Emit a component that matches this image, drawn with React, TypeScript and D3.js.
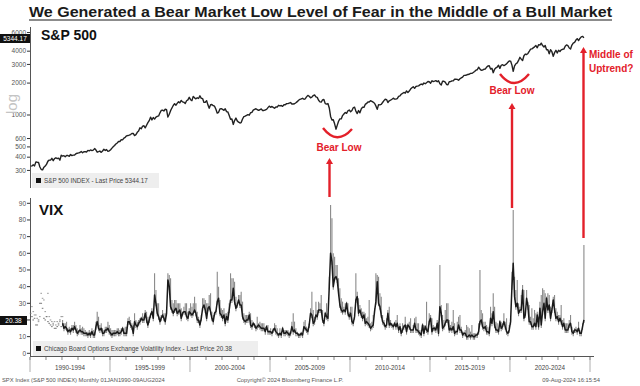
import React from 'react';
import * as d3 from 'd3';

// S&P 500 monthly closes, Jan 1990 - Aug 2024
const spx = [
  329, 331, 339, 331, 361, 358, 356, 323, 306, 304, 322, 330, // 1990
  344, 367, 375, 375, 390, 371, 388, 395, 388, 392, 375, 417, // 1991
  409, 413, 404, 415, 415, 408, 424, 414, 418, 419, 431, 436, // 1992
  439, 443, 452, 440, 450, 451, 448, 464, 459, 468, 462, 466, // 1993
  482, 467, 446, 451, 457, 444, 458, 475, 463, 472, 454, 459, // 1994
  470, 487, 501, 515, 533, 545, 562, 562, 584, 582, 605, 616, // 1995
  636, 640, 646, 654, 669, 671, 640, 652, 687, 705, 757, 741, // 1996
  786, 791, 757, 801, 848, 885, 954, 899, 947, 915, 955, 970, // 1997
  980, 1049, 1102, 1112, 1091, 1134, 1121, 957, 1017, 1099, 1164, 1229, // 1998
  1280, 1238, 1286, 1335, 1302, 1373, 1329, 1320, 1283, 1363, 1389, 1469, // 1999
  1394, 1366, 1499, 1452, 1421, 1455, 1431, 1518, 1437, 1429, 1315, 1320, // 2000
  1366, 1240, 1160, 1249, 1256, 1224, 1211, 1134, 1041, 1060, 1139, 1148, // 2001
  1130, 1107, 1147, 1077, 1067, 990, 912, 916, 815, 886, 936, 880, // 2002
  856, 841, 848, 917, 964, 975, 990, 1008, 996, 1051, 1058, 1112, // 2003
  1131, 1145, 1126, 1107, 1121, 1141, 1102, 1104, 1115, 1130, 1174, 1212, // 2004
  1181, 1204, 1181, 1157, 1192, 1191, 1234, 1220, 1229, 1207, 1249, 1248, // 2005
  1280, 1281, 1295, 1311, 1270, 1270, 1277, 1304, 1336, 1378, 1401, 1418, // 2006
  1438, 1407, 1421, 1482, 1531, 1503, 1455, 1474, 1527, 1549, 1481, 1468, // 2007
  1379, 1331, 1323, 1386, 1400, 1280, 1267, 1283, 1165, 969, 896, 903, // 2008
  826, 735, 798, 873, 919, 919, 987, 1021, 1057, 1036, 1096, 1115, // 2009
  1074, 1104, 1169, 1187, 1089, 1031, 1102, 1049, 1141, 1183, 1181, 1258, // 2010
  1286, 1327, 1326, 1364, 1345, 1321, 1292, 1219, 1131, 1253, 1247, 1258, // 2011
  1312, 1366, 1408, 1398, 1310, 1362, 1379, 1407, 1441, 1412, 1416, 1426, // 2012
  1498, 1515, 1569, 1598, 1631, 1606, 1686, 1633, 1682, 1757, 1806, 1848, // 2013
  1783, 1859, 1872, 1884, 1924, 1960, 1931, 2003, 1972, 2018, 2068, 2059, // 2014
  1995, 2105, 2068, 2086, 2107, 2063, 2104, 1972, 1920, 2079, 2080, 2044, // 2015
  1940, 1932, 2060, 2065, 2097, 2099, 2174, 2171, 2168, 2126, 2199, 2239, // 2016
  2279, 2364, 2363, 2384, 2412, 2423, 2470, 2472, 2519, 2575, 2648, 2674, // 2017
  2824, 2714, 2641, 2648, 2705, 2718, 2816, 2902, 2914, 2712, 2760, 2507, // 2018
  2704, 2784, 2834, 2946, 2752, 2942, 2980, 2926, 2977, 3038, 3141, 3231, // 2019
  3226, 2954, 2585, 2912, 3044, 3100, 3271, 3500, 3363, 3270, 3622, 3756, // 2020
  3714, 3811, 3973, 4181, 4204, 4298, 4395, 4523, 4308, 4605, 4567, 4766, // 2021
  4516, 4374, 4530, 4132, 4132, 3785, 4130, 3955, 3586, 3872, 4080, 3840, // 2022
  4077, 3970, 4109, 4169, 4180, 4450, 4589, 4508, 4288, 4194, 4568, 4770, // 2023
  4846, 5096, 5254, 5036, 5278, 5460, 5522, 5344 // 2024
];

// VIX monthly close
const vixClose = [
  24, 22, 20, 21, 17, 17, 20, 30, 30, 27, 21, 20, // 1990
  22, 19, 18, 17, 16, 17, 15, 15, 16, 17, 20, 16, // 1991
  18, 15, 16, 15, 13, 14, 13, 15, 14, 16, 14, 12, // 1992
  13, 14, 13, 13, 12, 12, 12, 11, 12, 11, 13, 11, // 1993
  11, 16, 19, 15, 14, 15, 12, 12, 14, 14, 15, 13, // 1994
  12, 11, 12, 12, 12, 13, 12, 12, 13, 15, 12, 12, // 1995
  12, 19, 19, 17, 16, 12, 19, 17, 16, 18, 19, 21, // 1996
  20, 20, 24, 20, 17, 20, 23, 25, 21, 35, 30, 24, // 1997
  22, 19, 21, 23, 21, 19, 24, 44, 40, 28, 26, 24, // 1998
  26, 27, 24, 25, 26, 21, 24, 25, 25, 22, 21, 25, // 1999
  24, 23, 24, 26, 24, 20, 20, 17, 21, 27, 29, 26, // 2000
  21, 27, 28, 25, 21, 19, 24, 25, 31, 33, 24, 23, // 2001
  21, 23, 18, 22, 20, 26, 32, 32, 39, 31, 27, 29, // 2002
  32, 29, 29, 22, 20, 19, 20, 20, 23, 17, 16, 18, // 2003
  17, 15, 16, 17, 16, 15, 15, 15, 13, 16, 13, 13, // 2004
  13, 12, 14, 15, 13, 12, 11, 12, 11, 15, 12, 12, // 2005
  13, 12, 11, 12, 16, 13, 14, 12, 12, 11, 11, 12, // 2006
  11, 16, 15, 14, 13, 17, 24, 23, 18, 19, 23, 22, // 2007
  26, 26, 26, 20, 18, 24, 22, 21, 40, 60, 55, 40, // 2008
  45, 46, 44, 36, 29, 26, 25, 26, 25, 30, 24, 22, // 2009
  24, 19, 18, 22, 32, 34, 24, 26, 23, 21, 23, 18, // 2010
  19, 18, 17, 15, 16, 17, 25, 31, 43, 30, 28, 23, // 2011
  19, 18, 16, 17, 24, 17, 18, 17, 16, 18, 16, 18, // 2012
  14, 16, 12, 14, 16, 17, 13, 17, 16, 14, 14, 14, // 2013
  18, 14, 14, 13, 12, 11, 17, 12, 16, 14, 13, 19, // 2014
  21, 13, 15, 15, 14, 18, 12, 28, 24, 15, 16, 18, // 2015
  20, 20, 14, 15, 14, 16, 12, 13, 13, 17, 14, 14, // 2016
  11, 12, 12, 10, 10, 11, 10, 11, 10, 10, 11, 11, // 2017
  13, 19, 20, 16, 15, 16, 13, 13, 12, 21, 18, 25, // 2018
  17, 14, 14, 13, 19, 15, 16, 19, 16, 13, 12, 14, // 2019
  19, 40, 54, 34, 28, 30, 24, 26, 26, 38, 21, 23, // 2020
  33, 28, 19, 19, 16, 16, 18, 16, 23, 16, 27, 17, // 2021
  25, 30, 21, 33, 26, 29, 21, 26, 32, 26, 21, 22, // 2022
  19, 21, 19, 16, 18, 14, 14, 14, 17, 18, 13, 12, // 2023
  14, 14, 13, 15, 12, 12, 16, 20 // 2024
];

// VIX monthly high
const vixHigh = [
  28, 25, 23, 23, 21, 19, 22, 36, 33, 32, 25, 22, // 1990
  36, 22, 20, 19, 18, 19, 17, 19, 18, 19, 22, 22, // 1991
  20, 18, 18, 19, 15, 16, 15, 17, 17, 19, 17, 15, // 1992
  14, 17, 15, 16, 15, 14, 13, 13, 14, 13, 15, 14, // 1993
  13, 19, 25, 22, 17, 18, 15, 14, 16, 16, 19, 17, // 1994
  15, 14, 14, 14, 14, 15, 15, 14, 15, 16, 15, 16, // 1995
  16, 21, 22, 20, 18, 17, 24, 20, 19, 20, 21, 22, // 1996
  24, 22, 26, 25, 22, 22, 24, 27, 26, 48, 38, 30, // 1997
  30, 22, 23, 26, 24, 24, 26, 48, 47, 45, 32, 30, // 1998
  32, 32, 30, 30, 30, 27, 25, 28, 30, 30, 25, 27, // 1999
  30, 28, 30, 34, 30, 25, 22, 20, 23, 33, 33, 32, // 2000
  30, 30, 35, 36, 25, 23, 25, 26, 49, 40, 32, 27, // 2001
  26, 27, 24, 24, 25, 30, 48, 45, 45, 43, 34, 30, // 2002
  35, 35, 37, 31, 24, 23, 23, 23, 25, 24, 20, 19, // 2003
  18, 17, 22, 18, 19, 18, 18, 18, 16, 17, 17, 14, // 2004
  15, 13, 15, 18, 17, 15, 12, 15, 13, 16, 14, 14, // 2005
  14, 14, 13, 13, 19, 24, 19, 15, 13, 12, 12, 13, // 2006
  12, 19, 20, 16, 15, 18, 27, 37, 26, 22, 31, 26, // 2007
  31, 30, 35, 26, 20, 25, 30, 24, 46, 89, 81, 60, // 2008
  58, 53, 53, 45, 39, 33, 31, 28, 30, 31, 30, 25, // 2009
  28, 28, 20, 23, 48, 37, 33, 29, 27, 25, 25, 24, // 2010
  21, 22, 32, 18, 19, 23, 27, 48, 47, 46, 36, 34, // 2011
  23, 20, 17, 21, 26, 28, 20, 18, 17, 19, 20, 23, // 2012
  15, 18, 15, 18, 17, 22, 17, 18, 19, 21, 14, 17, // 2013
  21, 22, 18, 18, 14, 13, 18, 17, 17, 31, 15, 24, // 2014
  23, 21, 17, 16, 16, 20, 19, 53, 29, 23, 20, 26, // 2015
  30, 30, 20, 17, 19, 26, 18, 14, 19, 22, 23, 16, // 2016
  13, 13, 14, 17, 16, 15, 13, 17, 12, 12, 12, 12, // 2017
  18, 50, 26, 24, 19, 19, 17, 16, 15, 28, 24, 36, // 2018
  28, 19, 18, 14, 20, 19, 18, 24, 19, 21, 13, 17, // 2019
  21, 49, 86, 46, 38, 44, 30, 28, 35, 41, 38, 25, // 2020
  38, 31, 29, 22, 27, 21, 26, 24, 25, 22, 31, 35, // 2021
  39, 38, 36, 34, 36, 35, 28, 27, 34, 35, 27, 25, // 2022
  23, 23, 29, 20, 21, 18, 18, 18, 20, 23, 16, 14, // 2023
  15, 16, 15, 19, 14, 13, 18, 65 // 2024
];

const spxTicks = [300, 400, 500, 600, 1000, 2000, 3000, 4000, 5000, 6000];
const vixTicks = [0, 10, 20, 30, 40, 50, 60, 70, 80, 90];
// tick labels sitting behind the last-price tags are not visible in the original
const hiddenSpx = [5000];
const hiddenVix = [20];
const periodLabels = ['1990-1994', '1995-1999', '2000-2004', '2005-2009', '2010-2014', '2015-2019', '2020-2024'];
const title = 'We Generated a Bear Market Low Level of Fear in the Middle of a  Bull Market';

const RED = '#e3202a';
const SMALL = '"Liberation Sans Narrow", "Liberation Sans", Arial, sans-serif';
const BOLD = '"Liberation Sans", Arial, sans-serif';

const App: React.FC = () => {
  const dates = spx.map((_, i) => new Date(1990, i, 15));
  const x = d3.scaleTime().domain([new Date(1990, 0, 1), new Date(2025, 0, 1)]).range([30, 590]);
  const ySpx = d3.scaleLog().domain([1000, 10000]).range([115, 9]);
  const yVix = d3.scaleLinear().domain([0, 90]).range([353.3, 203.3]);

  const spxLine = d3.line<number>().x((_, i) => x(dates[i])).y(d => ySpx(d))(spx) || '';
  const vixStart = 24; // line drawn from 1992, earlier months appear as dots
  const vixIdx = d3.range(vixStart, vixClose.length);
  const vixLine = d3.line<number>().x(i => x(dates[i])).y(i => yVix(vixClose[i]))(vixIdx) || '';

  const years = d3.range(1990, 2026);
  const bounds = d3.range(1990, 2026, 5);

  const arrow = (xx: number, y1: number, y2: number) => (
    <g>
      <line x1={xx} x2={xx} y1={y1} y2={y2 + 5} stroke={RED} strokeWidth={2.4} />
      <path d={`M${xx - 3.5},${y2 + 6} L${xx},${y2} L${xx + 3.5},${y2 + 6} Z`} fill={RED} />
    </g>
  );

  return (
    <svg width={640} height={386} style={{ position: 'absolute', left: 0, top: 0, background: '#fff' }}>
      <rect width={640} height={386} fill="#fff" />
      {/* title */}
      <text x={29} y={17} fontFamily={BOLD} fontWeight="bold" fontSize={14.5} fill="#1a1a1a"
        textLength={583} lengthAdjust="spacingAndGlyphs">{title}</text>
      <line x1={29} x2={612} y1={20} y2={20} stroke="#1a1a1a" strokeWidth={1.2} />

      {/* S&P panel axis */}
      <line x1={30.5} x2={30.5} y1={27} y2={188} stroke="#555" strokeWidth={1} />
      {spxTicks.map(t => (
        <g key={t}>
          <line x1={27} x2={30} y1={ySpx(t)} y2={ySpx(t)} stroke="#333" strokeWidth={1} />
          {!hiddenSpx.includes(t) && (
            <text x={26} y={ySpx(t) + 2.2} textAnchor="end" fontFamily={SMALL} fontSize={6.5} fill="#555">{t}</text>
          )}
        </g>
      ))}
      <text transform="translate(17,104) rotate(-90)" textAnchor="middle" fontFamily={BOLD} fontSize={15} fill="#c4c4c4">log</text>
      <rect x={0} y={34} width={30} height={9} fill="#111" />
      <text x={15} y={41} textAnchor="middle" fontFamily={SMALL} fontSize={6.5} fill="#fff">5344.17</text>
      <text x={41} y={40} fontFamily={BOLD} fontWeight="bold" fontSize={14} fill="#111">S&amp;P 500</text>

      <path d={spxLine} fill="none" stroke="#222" strokeWidth={1.4} strokeLinejoin="round" />

      <rect x={32} y={173} width={127} height={15} fill="#eeeeee" />
      <rect x={36} y={178} width={5} height={5} fill="#111" />
      <text x={44} y={183} fontFamily={SMALL} fontSize={6.3} fill="#444">S&amp;P 500 INDEX - Last Price 5344.17</text>

      {/* VIX panel axis */}
      <line x1={30.5} x2={30.5} y1={198} y2={356} stroke="#555" strokeWidth={1} />
      {vixTicks.map(t => (
        <g key={t}>
          <line x1={27} x2={30} y1={yVix(t)} y2={yVix(t)} stroke="#333" strokeWidth={1} />
          {!hiddenVix.includes(t) && (
            <text x={26} y={yVix(t) + 2.2} textAnchor="end" fontFamily={SMALL} fontSize={6.5} fill="#555">{t}</text>
          )}
        </g>
      ))}
      <text x={39} y={215} fontFamily={BOLD} fontWeight="bold" fontSize={15} fill="#111">VIX</text>

      {/* early VIX as dots */}
      {d3.range(0, vixStart).map(i => (
        <g key={i}>
          <rect x={x(dates[i]) - 0.8} y={yVix(vixClose[i]) - 0.5} width={1.6} height={1} fill="#777" />
          <rect x={x(dates[i]) + 0.5} y={yVix(vixHigh[i]) - 0.5} width={1.6} height={1} fill="#999" />
        </g>
      ))}
      {/* VIX highs as gray spikes */}
      {vixIdx.map(i => (
        <line key={i} x1={x(dates[i])} x2={x(dates[i])} y1={yVix(vixClose[i]) + 3} y2={yVix(vixHigh[i])}
          stroke="#8a8a8a" strokeWidth={1.1} />
      ))}
      <path d={vixLine} fill="none" stroke="#1a1a1a" strokeWidth={1.5} strokeLinejoin="round" />

      <rect x={0} y={316} width={27} height={9} fill="#111" />
      <text x={13.5} y={323} textAnchor="middle" fontFamily={SMALL} fontSize={6.5} fill="#fff">20.38</text>

      <rect x={33} y={341} width={225} height={15} fill="#eeeeee" />
      <rect x={36} y={346} width={5} height={5} fill="#111" />
      <text x={44} y={351} fontFamily={SMALL} fontSize={6.3} fill="#444">Chicago Board Options Exchange Volatility Index - Last Price 20.38</text>

      {/* x axis */}
      <line x1={30} x2={594} y1={356.5} y2={356.5} stroke="#555" strokeWidth={1} />
      {years.map(yr => (
        <line key={yr} x1={x(new Date(yr, 0, 1))} x2={x(new Date(yr, 0, 1))} y1={357} y2={360} stroke="#666" strokeWidth={0.8} />
      ))}
      {bounds.map(yr => (
        <line key={yr} x1={x(new Date(yr, 0, 1))} x2={x(new Date(yr, 0, 1))} y1={357} y2={372} stroke="#999" strokeWidth={0.8} />
      ))}
      {periodLabels.map((lab, i) => (
        <text key={lab} x={x(new Date(1992 + i * 5, 6, 1))} y={370} textAnchor="middle" fontFamily={SMALL} fontSize={6.3} fill="#444">{lab}</text>
      ))}

      {/* footer */}
      <text x={2} y={382} fontFamily={SMALL} fontSize={5.8} fill="#555">SPX Index (S&amp;P 500 INDEX)  Monthly 01JAN1990-09AUG2024</text>
      <text x={290} y={382} textAnchor="middle" fontFamily={SMALL} fontSize={5.8} fill="#555">Copyright© 2024 Bloomberg Finance L.P.</text>
      <text x={600} y={382} textAnchor="end" fontFamily={SMALL} fontSize={5.8} fill="#555">09-Aug-2024 16:15:54</text>

      {/* annotations */}
      <path d="M323,128 Q337,146 352,129" fill="none" stroke={RED} strokeWidth={2.4} />
      <text x={339} y={151} textAnchor="middle" fontFamily={BOLD} fontWeight="bold" fontSize={10} fill={RED}>Bear Low</text>
      {arrow(329.5, 197, 158)}

      <path d="M500,74 Q514,92 529,74" fill="none" stroke={RED} strokeWidth={2.4} />
      <text x={512} y={94} textAnchor="middle" fontFamily={BOLD} fontWeight="bold" fontSize={10} fill={RED}>Bear Low</text>
      {arrow(512, 208, 103)}

      {arrow(583.5, 238, 47)}
      <text x={589} y={58} fontFamily={BOLD} fontWeight="bold" fontSize={10} fill={RED}>Middle of</text>
      <text x={589} y={72} fontFamily={BOLD} fontWeight="bold" fontSize={10} fill={RED}>Uptrend?</text>
    </svg>
  );
};

export default App;
